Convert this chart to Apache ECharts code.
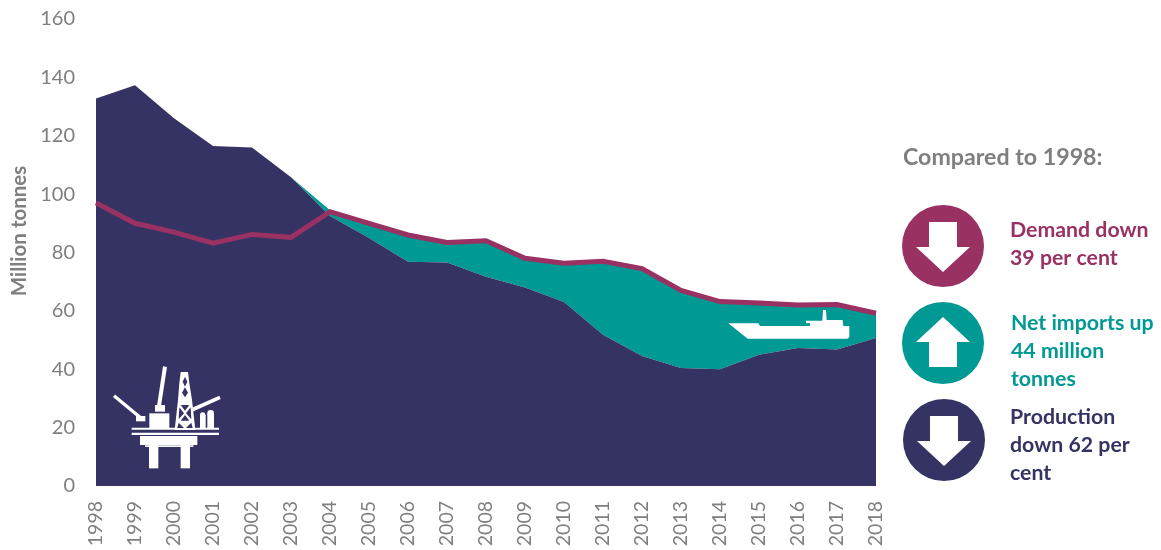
<!DOCTYPE html>
<html>
<head>
<meta charset="utf-8">
<style>html,body{margin:0;padding:0;background:#fff}#c{width:1161px;height:550px}</style>
<script src="https://cdn.jsdelivr.net/npm/echarts@6/dist/echarts.min.js"></script>
</head>
<body>
<div id="c"></div>
<script>
const years = ['1998','1999','2000','2001','2002','2003','2004','2005','2006','2007','2008','2009','2010','2011','2012','2013','2014','2015','2016','2017','2018'];
const production = [132.8,137.3,126,116.5,116,105.8,92.5,85,76.8,76.6,71.7,68,63,51.8,44.5,40.4,40,45,47.3,46.8,50.7];
const netImports = [0,0,0,0,0,0,2,5,9.2,6.8,12.3,10,13.3,25,30,26.6,23,17.7,14.7,15.5,8.5];
const demand = [97,90,87,83.2,86.2,85.2,94,90,86,83.4,84,78,76.3,77,74.5,67,63.2,62.7,62,62.2,59.2];
const NAVY='#343364', TEAL='#009994', PLUM='#993162', GREY='#7f7f7f';
const FONT='Lato, "Open Sans", sans-serif';
const TOP=50;

function poly(points, fill, z){ return {type:'polygon',z:z||TOP,shape:{points},style:{fill}}; }
function box(x,y,w,h){ return {type:'rect',z:TOP,shape:{x,y,width:w,height:h},style:{fill:'#fff'}}; }
function bar(x1,y1,x2,y2,w,c,z){ return {type:'line',z:z||TOP,shape:{x1,y1,x2,y2},style:{stroke:c||'#fff',lineWidth:w}}; }
function dot(cx,cy,r,fill,z){ return {type:'circle',z:z||TOP,shape:{cx,cy,r},style:{fill}}; }
function txt(x,y,text,fill,size){
  return {type:'text',x,y,z:TOP,style:{text,fill,font:'bold '+size+'px '+FONT,textVerticalAlign:'middle',textAlign:'left'}};
}
function badge(cx,cy,color,up){
  const d = up?-1:1;
  return {type:'group',x:cx,y:cy,children:[
    dot(0,0,41,color,TOP),
    poly([[-14,-24*d],[14,-24*d],[14,1*d],[27,1*d],[0,26*d],[-27,1*d],[-14,1*d]],'#fff',TOP+1)
  ]};
}
const ship = {type:'group',x:600,y:250,scaleX:1/3,scaleY:1/3,children:[
  poly([[385,220],[475,220],[480,228],[630,228],[630,220],[618,219],[618,212],[667,212],[669,180],[678,180],[680,210],[728,210],[730,228],[748,228],[748,262],[742,266],[443,266]],'#fff')
]};
const rig = {type:'group',x:90,y:350,scaleX:1/3,scaleY:1/3,children:[
  box(177,285,28,70), box(272,285,28,70),
  box(150,258,172,27), box(165,286,145,5),
  box(125,233,262,6), box(125,248,262,7),
  box(178,190,60,44), box(195,165,30,20), box(138,198,28,16),
  bar(207,168,225,50,12), bar(150,202,72,137,10), bar(305,180,390,142,11),
  box(330,195,17,40), box(352,190,20,46),
  dot(338,195,8,'#fff'), dot(362,190,10,'#fff'),
  poly([[272,66],[294,66],[298,100],[306,150],[316,240],[254,240],[264,150],[268,100]],'#fff'),
  poly([[285,80],[292,95],[285,110],[278,95]],NAVY,TOP+1),
  poly([[285,112],[294,128],[285,142],[276,128]],NAVY,TOP+1),
  poly([[272,165],[298,165],[285,182]],NAVY,TOP+1),
  poly([[268,172],[282,190],[266,208]],NAVY,TOP+1),
  poly([[302,172],[288,190],[304,208]],NAVY,TOP+1),
  poly([[285,195],[298,212],[272,212]],NAVY,TOP+1),
  poly([[266,218],[282,234],[262,234]],NAVY,TOP+1),
  poly([[304,218],[288,234],[308,234]],NAVY,TOP+1)
]};

const chart = echarts.init(document.getElementById('c'),null,{renderer:'canvas'});
chart.setOption({
  animation:false,
  backgroundColor:'#fff',
  textStyle:{fontFamily:FONT},
  grid:{left:96,right:285,top:19,bottom:64},
  xAxis:{type:'category',data:years,boundaryGap:false,
    axisLine:{show:false},axisTick:{show:false},
    axisLabel:{rotate:90,color:GREY,fontSize:19.5,margin:15,interval:0,fontFamily:FONT}},
  yAxis:{type:'value',min:0,max:160,interval:20,
    axisLine:{show:false},axisTick:{show:false},splitLine:{show:false},
    axisLabel:{color:GREY,fontSize:20,margin:21,fontFamily:FONT}},
  series:[
    {name:'Production',type:'line',stack:'supply',data:production,showSymbol:false,
      lineStyle:{width:0},areaStyle:{color:NAVY,opacity:1},z:2},
    {name:'Net imports',type:'line',stack:'supply',data:netImports,showSymbol:false,
      lineStyle:{width:0},areaStyle:{color:TEAL,opacity:1},z:1},
    {name:'Demand',type:'line',data:demand,showSymbol:false,
      lineStyle:{width:5,color:PLUM,join:'miter'},z:3}
  ],
  graphic:{elements:[
    {type:'text',x:19,y:231,rotation:Math.PI/2,
      style:{text:'Million tonnes',fill:GREY,font:'bold 20.5px '+FONT,textAlign:'center',textVerticalAlign:'middle'}},
    rig, ship,
    txt(903,158,'Compared to 1998:',GREY,23.2),
    badge(943,246,PLUM,false), badge(943,343,TEAL,true), badge(944,440,NAVY,false),
    txt(1010,230,'Demand down',PLUM,21.3), txt(1010,258,'39 per cent',PLUM,21.3),
    txt(1011,323,'Net imports up',TEAL,21.3), txt(1011,351,'44 million',TEAL,21.3), txt(1011,379,'tonnes',TEAL,21.3),
    txt(1010,417,'Production',NAVY,21.3), txt(1010,445,'down 62 per',NAVY,21.3), txt(1010,473,'cent',NAVY,21.3)
  ]}
});
</script>
</body>
</html>
